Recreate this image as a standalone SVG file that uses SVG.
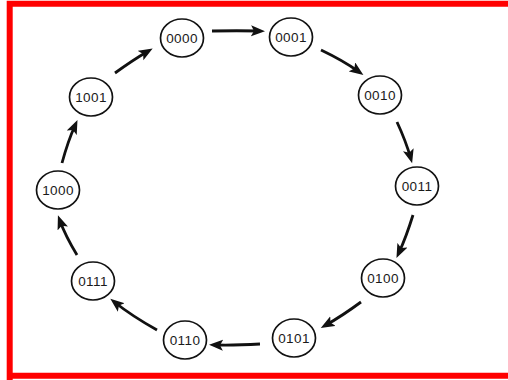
<svg xmlns="http://www.w3.org/2000/svg" width="508" height="380" viewBox="0 0 508 380">
<style>
.node ellipse{fill:#fff;stroke:#111;stroke-width:1.7}
.node text{font-family:"Liberation Sans",Arial,sans-serif;font-size:13.5px;letter-spacing:0.4px;fill:#1a1a1a;text-anchor:middle;dominant-baseline:central}
.edge{fill:none;stroke:#111;stroke-width:2.8;marker-end:url(#ah)}
</style>
<defs>
<marker id="ah" markerUnits="userSpaceOnUse" markerWidth="16" markerHeight="12" refX="8" refY="5.5" orient="auto">
<path d="M0,0 L14,5.5 L0,11 L3,5.5 z" fill="#111"/>
</marker>
</defs>
<rect x="0" y="0" width="508" height="380" fill="#fff"/>
<path d="M9.7,520 V3.8 H520 M9.7,375.8 H520" fill="none" stroke="#ff0000" stroke-width="6"/>
<g id="connectors">
<path class="edge" d="M212,31 Q238,30.5 259,31"/>
<path class="edge" d="M321,50 Q343,60.5 358.5,71.5"/>
<path class="edge" d="M397,122 Q406,141.5 410.5,157.5"/>
<path class="edge" d="M413,215 Q406,237.5 399,252.5"/>
<path class="edge" d="M361,302 Q342,316 326,325"/>
<path class="edge" d="M260,344 Q234.5,345.5 215,345"/>
<path class="edge" d="M157,330 Q132,316 115,302.5"/>
<path class="edge" d="M77,255 Q65.5,236 60,221"/>
<path class="edge" d="M62,163 Q68,141 75,125.5"/>
<path class="edge" d="M115,73 Q133,60 147.5,51.5"/>
</g>
<g id="n0000" class="node"><ellipse cx="182" cy="38" rx="21.5" ry="19"/><text x="182" y="38">0000</text></g>
<g id="n0001" class="node"><ellipse cx="291" cy="37" rx="21.5" ry="19"/><text x="291" y="37">0001</text></g>
<g id="n0010" class="node"><ellipse cx="380" cy="95" rx="21.5" ry="19"/><text x="380" y="95">0010</text></g>
<g id="n0011" class="node"><ellipse cx="417" cy="186" rx="21.5" ry="19"/><text x="417" y="186">0011</text></g>
<g id="n0100" class="node"><ellipse cx="383" cy="278" rx="21.5" ry="19"/><text x="383" y="278">0100</text></g>
<g id="n0101" class="node"><ellipse cx="294" cy="338" rx="21.5" ry="19"/><text x="294" y="338">0101</text></g>
<g id="n0110" class="node"><ellipse cx="185" cy="340" rx="21.5" ry="19"/><text x="185" y="340">0110</text></g>
<g id="n0111" class="node"><ellipse cx="93" cy="281" rx="21.5" ry="19"/><text x="93" y="281">0111</text></g>
<g id="n1000" class="node"><ellipse cx="58" cy="190" rx="21.5" ry="19"/><text x="58" y="190">1000</text></g>
<g id="n1001" class="node"><ellipse cx="91" cy="97" rx="21.5" ry="19"/><text x="91" y="97">1001</text></g>
</svg>
